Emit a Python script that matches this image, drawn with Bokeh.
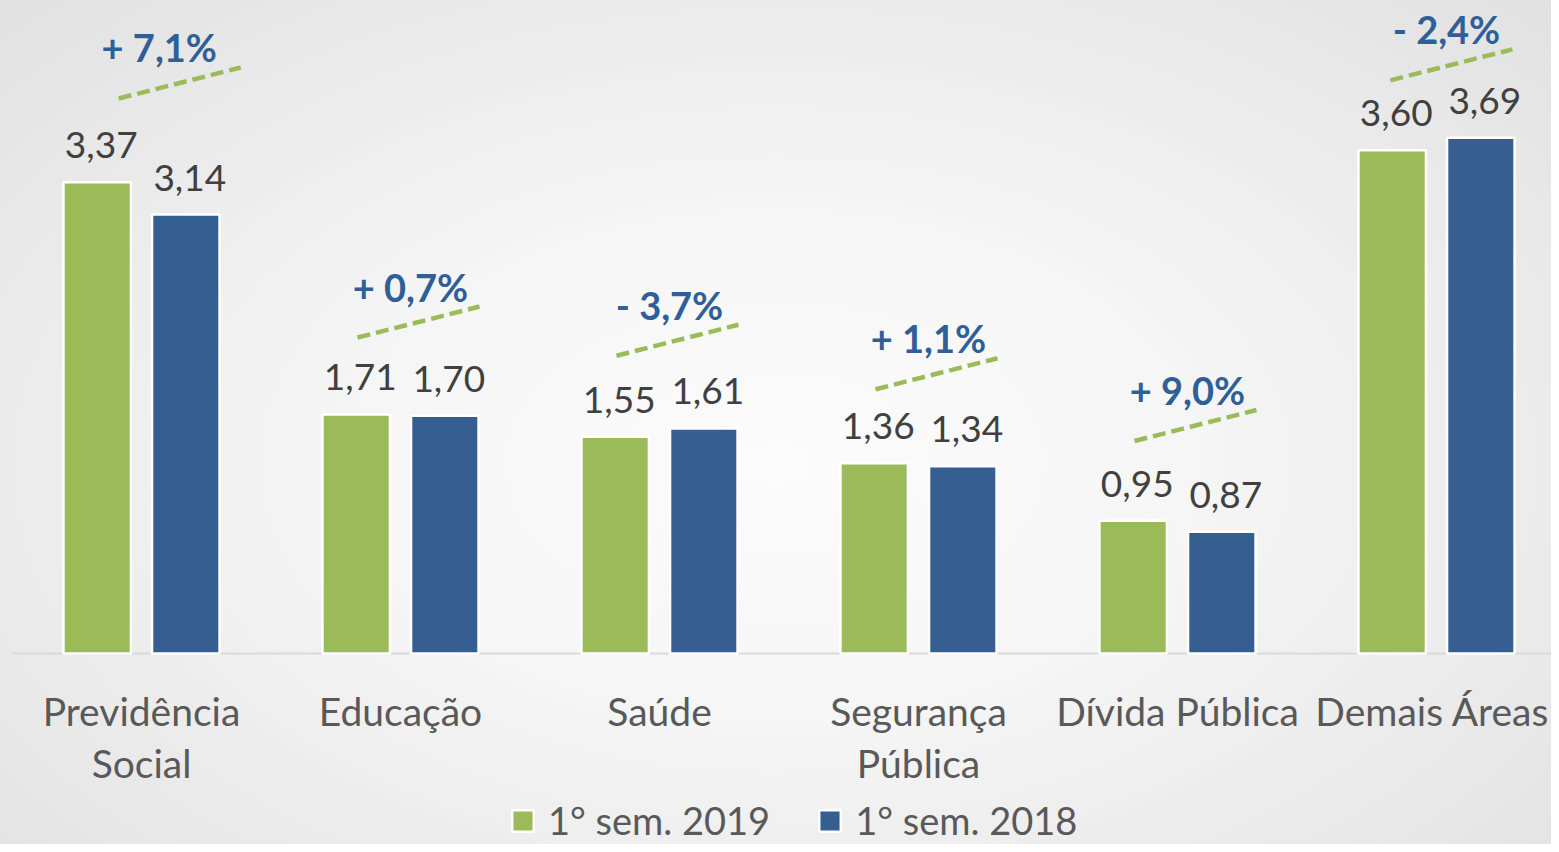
from bokeh.plotting import figure
from bokeh.models import Range1d, ColumnDataSource, Legend, LegendItem
from bokeh.core.properties import value
from bokeh.transform import dodge
from bokeh.embed import file_html
from bokeh.resources import INLINE

# ---------------- data ----------------
categories = ["Previdência\nSocial", "Educação", "Saúde", "Segurança\nPública", "Dívida Pública", "Demais Áreas"]
sem_2019 = [3.37, 1.71, 1.55, 1.36, 0.95, 3.60]
sem_2018 = [3.14, 1.70, 1.61, 1.34, 0.87, 3.69]
variation = ["+ 7,1%", "+ 0,7%", "- 3,7%", "+ 1,1%", "+ 9,0%", "- 2,4%"]
series_names = ["1° sem. 2019", "1° sem. 2018"]

# annotation placement: height of the dashed trend line's left end
pct_line_level = [3.97, 2.26, 2.13, 1.89, 1.52, 4.10]
pct_line_shift = [0.078, 0.0, 0.0, 0.0, 0.0, -0.012]
pct_text_shift = [0.030, 0.0, 0.0, 0.0, 0.0, 0.0]

# ---------------- styles ----------------
GREEN = "#9BBB59"
BLUE = "#365F91"
PCT_BLUE = "#2F5F98"
FONT = "Lato"

W, H = 1551, 844
PX_X = 259.0      # pixels per category
PX_Y = 139.8      # pixels per unit of value
X0 = 141.0        # pixel position of first category centre
Y0 = 653.0        # pixel position of the baseline (from top)
TXT_FIX = -13     # compensation for the text baseline placement

idx = list(range(len(categories)))
line1 = [c.split("\n")[0] for c in categories]
line2 = [c.split("\n")[1] if "\n" in c else "" for c in categories]
fmt = lambda v: f"{v:.2f}".replace(".", ",")
# keep the last category label inside the right edge
label_nudge = [0, 0, 0, 0, 0, -4]

src = ColumnDataSource(dict(
    x=idx,
    y19=sem_2019, y18=sem_2018,
    l19=[fmt(v) for v in sem_2019], l18=[fmt(v) for v in sem_2018],
    line1=line1, line2=line2,
    zero=[0.0] * len(idx),
    nudge=label_nudge,
))

x_start = -X0 / PX_X
y_top = Y0 / PX_Y
p = figure(width=W, height=H,
           x_range=Range1d(x_start, x_start + W / PX_X),
           y_range=Range1d(y_top - H / PX_Y, y_top),
           output_backend="svg", toolbar_location=None,
           x_axis_location=None, y_axis_location=None,
           min_border=0, outline_line_color=None)
p.background_fill_color = None
p.border_fill_color = None
p.grid.visible = False
p.styles = {"background": "radial-gradient(ellipse farthest-corner at 50% 55%, #fcfcfc 0%, #f5f5f5 40%, #e1e1e1 100%)"}

OFF = 44.3 / PX_X
BW = 67.5 / PX_X

# baseline
p.segment(x0=[-0.5], y0=[0], x1=[len(idx) - 0.5 + 0.2], y1=[0], line_color="#d9d9d9", line_width=2)

r19 = p.vbar(x=dodge("x", -OFF, range=p.x_range), top="y19", width=BW, source=src,
             fill_color=GREEN, line_color="white", line_width=2.5)
r18 = p.vbar(x=dodge("x", OFF, range=p.x_range), top="y18", width=BW, source=src,
             fill_color=BLUE, line_color="white", line_width=2.5)

# value labels
for col, lab, d in (("y19", "l19", -OFF), ("y18", "l18", OFF)):
    p.text(x=dodge("x", d, range=p.x_range), y=col, text=lab, source=src,
           text_align="center", text_baseline="alphabetic", x_offset=4, y_offset=-24 + TXT_FIX,
           text_font=value(FONT), text_font_size="37px", text_color="#404040")

# category labels
p.text(x="x", y="zero", text="line1", source=src, text_align="center", text_baseline="alphabetic",
       x_offset="nudge", y_offset=70 + TXT_FIX, text_font=value(FONT), text_font_size="39px",
       text_color="#595959")
p.text(x="x", y="zero", text="line2", source=src, text_align="center", text_baseline="alphabetic",
       y_offset=122 + TXT_FIX, text_font=value(FONT), text_font_size="39px", text_color="#595959")

# variation annotations
A, B, T = -43.0 / PX_X, 79.0 / PX_X, 10.0 / PX_X
RISE = 31.0 / PX_Y
ann = ColumnDataSource(dict(
    x0=[i + A + s for i, s in zip(idx, pct_line_shift)],
    x1=[i + B + s for i, s in zip(idx, pct_line_shift)],
    y0=pct_line_level,
    y1=[v + RISE for v in pct_line_level],
    tx=[i + T + s for i, s in zip(idx, pct_text_shift)],
    txt=variation,
))
p.segment(x0="x0", y0="y0", x1="x1", y1="y1", source=ann, line_color=GREEN,
          line_width=4.5, line_dash="13 6")
p.text(x="tx", y="y0", text="txt", source=ann, text_align="center", text_baseline="alphabetic",
       y_offset=-38 + TXT_FIX, text_font=value(FONT), text_font_size="38px", text_font_style="bold",
       text_color=PCT_BLUE)

legend = Legend(items=[LegendItem(label=series_names[0], renderers=[r19]),
                       LegendItem(label=series_names[1], renderers=[r18])],
                orientation="horizontal", location=(509, 1),
                glyph_width=27, glyph_height=27, label_standoff=12, spacing=46,
                padding=0, margin=0, border_line_color=None, background_fill_alpha=0,
                label_text_font=FONT, label_text_font_size="38px", label_text_color="#595959")
p.add_layout(legend, "center")

open("out.html", "w").write(file_html(p, INLINE))
